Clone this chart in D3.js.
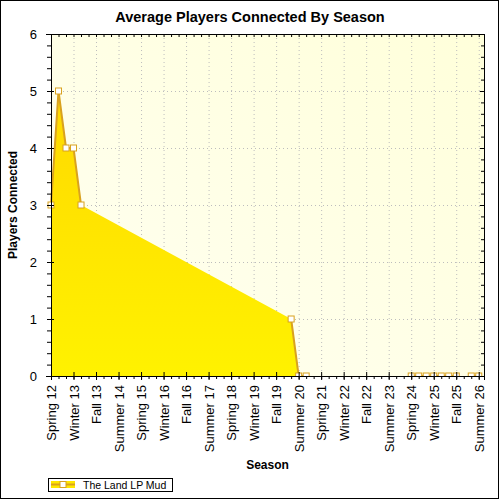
<!DOCTYPE html>
<html><head><meta charset="utf-8">
<script src="https://cdn.jsdelivr.net/npm/d3@7/dist/d3.min.js"></script>
<style>body{margin:0;background:#fff}svg{display:block}text{font-family:"Liberation Sans",Arial,sans-serif}</style>
</head><body><svg id="c" width="500" height="500"></svg>
<script>
const seasons = ["Spring 12","Summer 12","Fall 12","Winter 13","Spring 13","Summer 13","Fall 13","Winter 14","Spring 14","Summer 14","Fall 14","Winter 15","Spring 15","Summer 15","Fall 15","Winter 16","Spring 16","Summer 16","Fall 16","Winter 17","Spring 17","Summer 17","Fall 17","Winter 18","Spring 18","Summer 18","Fall 18","Winter 19","Spring 19","Summer 19","Fall 19","Winter 20","Spring 20","Summer 20","Fall 20","Winter 21","Spring 21","Summer 21","Fall 21","Winter 22","Spring 22","Summer 22","Fall 22","Winter 23","Spring 23","Summer 23","Fall 23","Winter 24","Spring 24","Summer 24","Fall 24","Winter 25","Spring 25","Summer 25","Fall 25","Winter 26","Spring 26","Summer 26"];
const tickLabels = ["Spring 12","Winter 13","Fall 13","Summer 14","Spring 15","Winter 16","Fall 16","Summer 17","Spring 18","Winter 19","Fall 19","Summer 20","Spring 21","Winter 22","Fall 22","Summer 23","Spring 24","Winter 25","Fall 25","Summer 26"];
const dataSeasons = ["Spring 12","Summer 12","Fall 12","Winter 13","Spring 13","Spring 20","Summer 20","Fall 20","Spring 24","Summer 24","Fall 24","Winter 25","Spring 25","Summer 25","Fall 25","Spring 26","Summer 26"];
const dataValues = [3,5,4,4,3,1,0,0,0,0,0,0,0,0,0,0,0];
const yTicks = [0,1,2,3,4,5,6];
const seriesName = "The Land LP Mud";
const title = "Average Players Connected By Season";

const svg = d3.select("#c");
const L=51, R=484, T=34, B=376;
const x = d3.scaleLinear().domain([0, 57.7]).range([L, R]);
const y = d3.scaleLinear().domain([0, 6]).range([B, T]);
const gold = "#D9A21F";

const defs = svg.append("defs");
const bg = defs.append("linearGradient").attr("id","bg").attr("x1","0").attr("y1","1").attr("x2","1").attr("y2","0");
bg.append("stop").attr("offset","0").attr("stop-color","#FFFFF2");
bg.append("stop").attr("offset","1").attr("stop-color","#FFFFDA");
const ag = defs.append("linearGradient").attr("id","ag").attr("gradientUnits","userSpaceOnUse").attr("x1",0).attr("y1",y(5)).attr("x2",0).attr("y2",B);
ag.append("stop").attr("offset","0").attr("stop-color","#FFD900");
ag.append("stop").attr("offset","1").attr("stop-color","#FFF200");
defs.append("clipPath").attr("id","clip").append("rect").attr("x",0).attr("y",T).attr("width",500).attr("height",B-T);

// frame
svg.append("rect").attr("x",0.5).attr("y",0.5).attr("width",498).attr("height",498).attr("fill","#fff").attr("stroke","#000");
svg.append("rect").attr("x",L).attr("y",T).attr("width",R-L).attr("height",B-T).attr("fill","url(#bg)");

const idx = s => seasons.indexOf(s);
const majorIdx = tickLabels.map(idx);
const allIdx = d3.range(seasons.length);

// grid
const grid = svg.append("g").attr("stroke","#BDBDBD").attr("stroke-dasharray","1,3");
grid.selectAll(".v").data(majorIdx.slice(1)).join("line").attr("x1",d=>x(d)+0.5).attr("x2",d=>x(d)+0.5).attr("y1",T).attr("y2",B);
grid.selectAll(".h").data(yTicks.slice(1,-1)).join("line").attr("y1",d=>y(d)+0.5).attr("y2",d=>y(d)+0.5).attr("x1",L).attr("x2",R);

// data
const pts = dataSeasons.map((s,i)=>({i:idx(s), v:dataValues[i]}));
const full = allIdx.map(i=>{const p=pts.find(q=>q.i===i); return p?p:{i, v:null};});
const area = d3.area().x(d=>x(d.i)).y0(B).y1(d=>y(d.v));
svg.append("path").datum(pts).attr("d",area).attr("fill","url(#ag)");
const line = d3.line().defined(d=>d.v!==null).x(d=>x(d.i)).y(d=>y(d.v));
const pg = svg.append("g").attr("clip-path","url(#clip)");
pg.append("path").datum(full).attr("d",line).attr("fill","none").attr("stroke",gold).attr("stroke-width",2);
pg.selectAll(".m").data(pts).join("rect").attr("x",d=>x(d.i)-3).attr("y",d=>y(d.v)-3).attr("width",6).attr("height",6).attr("fill","#fff").attr("stroke",gold).attr("stroke-width",1);

// axes
const ax = svg.append("g").attr("font-size",12);
ax.append("g").attr("transform",`translate(0,${B})`).call(d3.axisBottom(x).tickValues(allIdx).tickSize(3).tickFormat(""));
const bMajor = ax.append("g").attr("transform",`translate(0,${B})`).call(d3.axisBottom(x).tickValues(majorIdx).tickSize(4).tickFormat(i=>seasons[i]));
bMajor.selectAll(".tick line").attr("y1",-4);
bMajor.selectAll(".tick text").attr("transform","rotate(-90)").attr("text-anchor","end").attr("x",-9).attr("y",0).attr("dy","0.35em").attr("font-size",13);
ax.append("g").attr("transform",`translate(0,${T})`).call(d3.axisTop(x).tickValues(allIdx).tickSize(-3).tickFormat(""));
const yMinor = d3.range(0,30.5).map(d=>d/5);
ax.append("g").attr("transform",`translate(${L},0)`).call(d3.axisLeft(y).tickValues(yMinor).tickSize(4).tickFormat(""));
const lMajor = ax.append("g").attr("transform",`translate(${L},0)`).call(d3.axisLeft(y).tickValues(yTicks).tickSize(5).tickPadding(9).tickFormat(d3.format("d")));
lMajor.selectAll(".tick line").attr("x2",3);
lMajor.selectAll(".tick text").attr("font-size",13);
ax.append("g").attr("transform",`translate(${R},0)`).call(d3.axisRight(y).tickValues(yMinor).tickSize(-3).tickFormat(""));
ax.append("g").attr("transform",`translate(${R},0)`).call(d3.axisRight(y).tickValues(yTicks).tickSize(-4).tickFormat(""));
ax.selectAll(".domain").attr("stroke","#000");
ax.selectAll("text").attr("fill","#000").attr("font-family",'"Liberation Sans",Arial,sans-serif');

// titles
svg.append("text").attr("x",250).attr("y",22).attr("text-anchor","middle").attr("font-size",14.5).attr("font-weight","bold").text(title);
svg.append("text").attr("transform",`translate(17,${(T+B)/2}) rotate(-90)`).attr("text-anchor","middle").attr("font-size",12).attr("font-weight","bold").text("Players Connected");
svg.append("text").attr("x",(L+R)/2).attr("y",469).attr("text-anchor","middle").attr("font-size",12).attr("font-weight","bold").text("Season");

// legend
const lg = svg.append("g");
lg.append("rect").attr("x",48.5).attr("y",478.5).attr("width",124).attr("height",13).attr("fill","#fff").attr("stroke","#000");
lg.append("rect").attr("x",51).attr("y",481).attr("width",24).attr("height",7).attr("fill","#FFE800");
lg.append("line").attr("x1",51).attr("x2",75).attr("y1",484.5).attr("y2",484.5).attr("stroke",gold).attr("stroke-width",2);
lg.append("rect").attr("x",60).attr("y",481.5).attr("width",6).attr("height",6).attr("fill","#fff").attr("stroke",gold);
lg.append("text").attr("x",83).attr("y",488.5).attr("font-size",10.5).text(seriesName);
</script></body></html>
